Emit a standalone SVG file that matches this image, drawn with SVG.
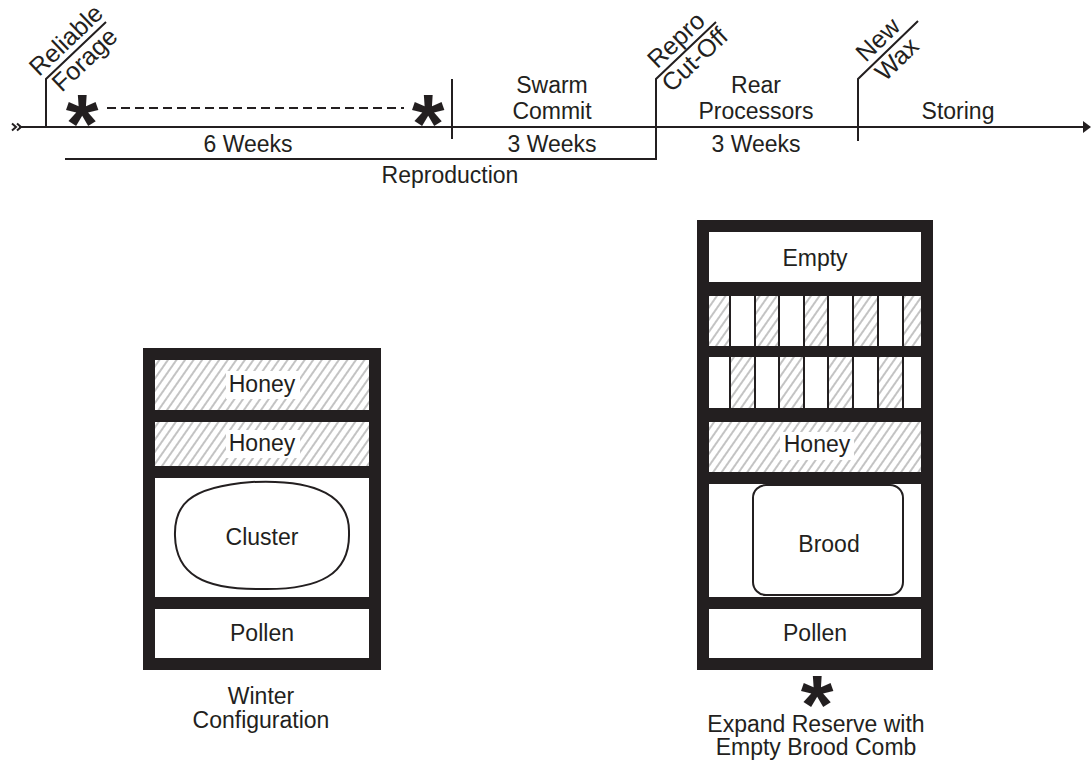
<svg xmlns="http://www.w3.org/2000/svg" width="1091" height="762" viewBox="0 0 1091 762">
<defs>
<pattern id="hatch" width="7" height="7" patternUnits="userSpaceOnUse" patternTransform="rotate(35)">
<line x1="1" y1="0" x2="1" y2="7" stroke="#7a7a7a" stroke-width="0.9"/>
</pattern>
</defs>
<style>
text{font-family:"Liberation Sans",Arial,sans-serif;font-size:23px;fill:#231f20;text-anchor:middle}
.rot{font-size:25px}
.ln{stroke:#231f20;stroke-width:2;fill:none}
.star{font-weight:bold;font-size:84px}
.wall{fill:#231f20}
.cell{fill:#fff}
.h{fill:url(#hatch)}
.lbl{fill:#fff}
.sep{stroke:#231f20;stroke-width:2}
</style>
<rect width="1091" height="762" fill="#fff"/>

<g id="connectors">
<line class="ln" x1="19" y1="127" x2="1085" y2="127"/>
<path class="ln" d="M12,123.5 L16,127 L12,130.5 M17,123.5 L21,127 L17,130.5" stroke-width="1.5"/>
<polygon points="1083,121 1091,127 1083,133" fill="#231f20"/>
<polyline class="ln" points="46,127 46,79 106,22"/>
<line class="ln" x1="107" y1="108" x2="404" y2="108" stroke-dasharray="9 5"/>
<line class="ln" x1="452" y1="79" x2="452" y2="139"/>
<polyline class="ln" points="65,159 656,159 656,79 716,22"/>
<polyline class="ln" points="858,141 858,79 918,21"/>
</g>

<g id="timeline-labels">
<g transform="translate(76,50.5) rotate(-43.5)"><text class="rot" x="0" y="-6">Reliable</text><text class="rot" x="0" y="21">Forage</text></g>
<g transform="translate(686,50.5) rotate(-43.5)"><text class="rot" x="0" y="-6">Repro</text><text class="rot" x="0" y="21">Cut-Off</text></g>
<g transform="translate(888,50) rotate(-44)"><text class="rot" x="0" y="-6">New</text><text class="rot" x="0" y="21">Wax</text></g>
<text class="star" x="82" y="153">*</text>
<text class="star" x="428" y="153">*</text>
<text x="248" y="152">6 Weeks</text>
<text x="552" y="93">Swarm</text>
<text x="552" y="119">Commit</text>
<text x="552" y="152">3 Weeks</text>
<text x="450" y="183">Reproduction</text>
<text x="756" y="93">Rear</text>
<text x="756" y="119">Processors</text>
<text x="756" y="152">3 Weeks</text>
<text x="958" y="119">Storing</text>
</g>

<g id="winter-hive">
<rect class="wall" x="143" y="348" width="238" height="322"/>
<rect class="cell" x="155" y="360" width="214" height="50"/>
<rect class="h" x="155" y="360" width="214" height="50"/>
<rect class="lbl" x="226" y="371" width="74" height="28"/>
<text x="262" y="392">Honey</text>
<rect class="cell" x="155" y="422" width="214" height="44"/>
<rect class="h" x="155" y="422" width="214" height="44"/>
<rect class="lbl" x="226" y="430" width="74" height="28"/>
<text x="262" y="451">Honey</text>
<rect class="cell" x="155" y="478" width="214" height="119"/>
<path class="ln" d="M175,536 C174,507 186,487 252,482 C318,479 350,497 349,533 C350,574 320,590 262,589 C203,590 176,574 175,536 Z"/>
<text x="262" y="545">Cluster</text>
<rect class="cell" x="155" y="609" width="214" height="49"/>
<text x="262" y="641">Pollen</text>
<text x="261" y="704">Winter</text>
<text x="261" y="728">Configuration</text>
</g>

<g id="summer-hive">
<rect class="wall" x="697" y="220" width="236" height="450"/>
<rect class="cell" x="709" y="232" width="212" height="50"/>
<text x="815" y="266">Empty</text>
<rect class="cell" x="709" y="296" width="212" height="50"/>
<rect class="h" x="709" y="296" width="21" height="50"/>
<rect class="h" x="755" y="296" width="24" height="50"/>
<rect class="h" x="804" y="296" width="24" height="50"/>
<rect class="h" x="853" y="296" width="25" height="50"/>
<rect class="h" x="903" y="296" width="18" height="50"/>
<rect class="cell" x="709" y="357" width="212" height="51"/>
<rect class="h" x="730" y="357" width="25" height="51"/>
<rect class="h" x="779" y="357" width="25" height="51"/>
<rect class="h" x="828" y="357" width="25" height="51"/>
<rect class="h" x="878" y="357" width="25" height="51"/>
<g class="sep">
<line x1="730" y1="296" x2="730" y2="346"/><line x1="755" y1="296" x2="755" y2="346"/>
<line x1="779" y1="296" x2="779" y2="346"/><line x1="804" y1="296" x2="804" y2="346"/>
<line x1="828" y1="296" x2="828" y2="346"/><line x1="853" y1="296" x2="853" y2="346"/>
<line x1="878" y1="296" x2="878" y2="346"/><line x1="903" y1="296" x2="903" y2="346"/>
<line x1="730" y1="357" x2="730" y2="408"/><line x1="755" y1="357" x2="755" y2="408"/>
<line x1="779" y1="357" x2="779" y2="408"/><line x1="804" y1="357" x2="804" y2="408"/>
<line x1="828" y1="357" x2="828" y2="408"/><line x1="853" y1="357" x2="853" y2="408"/>
<line x1="878" y1="357" x2="878" y2="408"/><line x1="903" y1="357" x2="903" y2="408"/>
</g>
<rect class="cell" x="709" y="422" width="212" height="50"/>
<rect class="h" x="709" y="422" width="212" height="50"/>
<rect class="lbl" x="780" y="432" width="74" height="28"/>
<text x="817" y="452">Honey</text>
<rect class="cell" x="709" y="484" width="212" height="113"/>
<rect class="ln" x="753" y="485" width="150" height="110" rx="13"/>
<text x="829" y="552">Brood</text>
<rect class="cell" x="709" y="609" width="212" height="49"/>
<text x="815" y="641">Pollen</text>
<text class="star" x="817" y="734">*</text>
<text x="816" y="732">Expand Reserve with</text>
<text x="816" y="755">Empty Brood Comb</text>
</g>
</svg>
